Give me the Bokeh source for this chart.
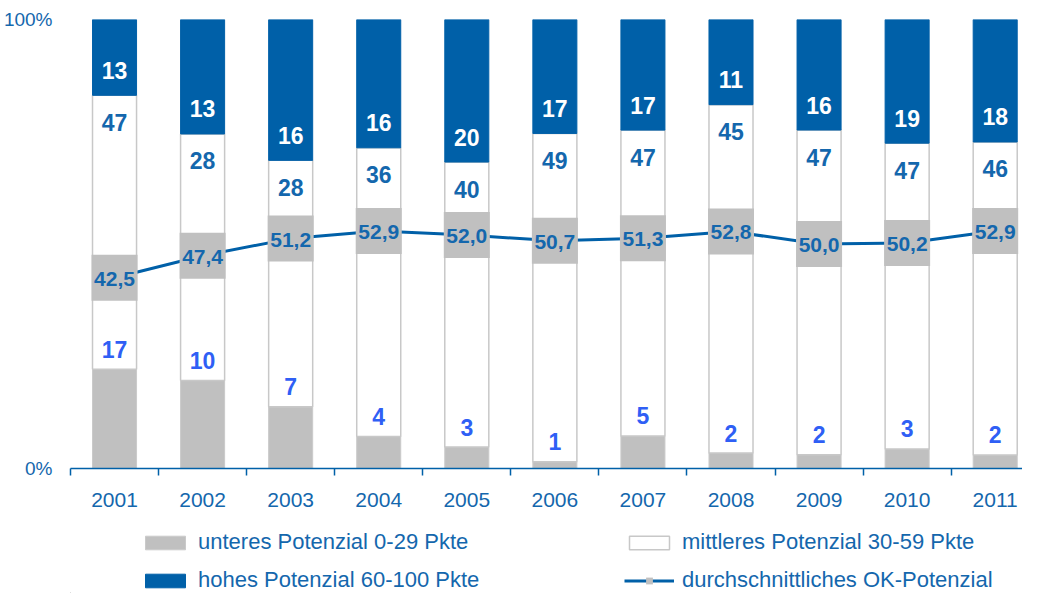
from bokeh.plotting import figure
from bokeh.layouts import column
from bokeh.models import Range1d, FixedTicker, Legend, LegendItem, ColumnDataSource
from bokeh.core.properties import value
from bokeh.embed import file_html
from bokeh.resources import INLINE

years = ["2001", "2002", "2003", "2004", "2005", "2006", "2007", "2008", "2009", "2010", "2011"]
high = [13, 13, 16, 16, 20, 17, 17, 11, 16, 19, 18]
mid = [47, 28, 28, 36, 40, 49, 47, 45, 47, 47, 46]
low = [17, 10, 7, 4, 3, 1, 5, 2, 2, 3, 2]
avg = [42.5, 47.4, 51.2, 52.9, 52.0, 50.7, 51.3, 52.8, 50.0, 50.2, 52.9]
legend_labels = ["unteres Potenzial 0-29 Pkte", "mittleres Potenzial 30-59 Pkte",
                 "hohes Potenzial 60-100 Pkte", "durchschnittliches OK-Potenzial"]

BLUE = "#0060a8"
TXT = "#1467ad"
GRAY = "#c0c0c0"
LOWTXT = "#2f5ff5"
FONT = "Liberation Sans"

n = len(years)
x = list(range(n))
tot = [h + m + l for h, m, l in zip(high, mid, low)]
low_top = [100.0 * l / t for l, t in zip(low, tot)]
mid_top = [100.0 * (l + m) / t for l, m, t in zip(low, mid, tot)]

src = ColumnDataSource(dict(
    x=x, zero=[0] * n, full=[100] * n, low_top=low_top, mid_top=mid_top, avg=avg,
    high_lbl=[str(v) for v in high], mid_lbl=[str(v) for v in mid], low_lbl=[str(v) for v in low],
    avg_lbl=[f"{v:.1f}".replace(".", ",") for v in avg],
))

p = figure(width=1022, height=513, x_range=Range1d(-0.5, 10.31), y_range=Range1d(0, 100),
           output_backend="svg", toolbar_location=None,
           min_border_left=62, min_border_right=0, min_border_top=19, min_border_bottom=45)
p.outline_line_color = None
p.xgrid.visible = False
p.ygrid.visible = False

low_style = dict(fill_color=GRAY, line_color="#cacaca", line_width=1)
mid_style = dict(fill_color="white", line_color="#c8c8c8", line_width=1.5)
high_style = dict(fill_color=BLUE, line_color=BLUE, line_width=1)

p.vbar(x="x", width=0.5, bottom="zero", top="low_top", source=src, **low_style)
p.vbar(x="x", width=0.5, bottom="low_top", top="mid_top", source=src, **mid_style)
p.vbar(x="x", width=0.5, bottom="mid_top", top="full", source=src, **high_style)

p.line(x="x", y="avg", source=src, line_color=BLUE, line_width=3)
p.scatter(x="x", y="avg", source=src, marker="square", size=46,
          fill_color=GRAY, line_color=None)

common = dict(text_align="center", text_baseline="middle", text_font=value(FONT),
              text_font_style="bold", source=src)
p.text(x="x", y="mid_top", text="high_lbl", y_offset=-25, text_color="white",
       text_font_size="23px", **common)
p.text(x="x", y="mid_top", text="mid_lbl", y_offset=27, text_color=TXT,
       text_font_size="23px", **common)
p.text(x="x", y="low_top", text="low_lbl", y_offset=-20, text_color=LOWTXT,
       text_font_size="23px", **common)
p.text(x="x", y="avg", text="avg_lbl", y_offset=1, text_color=TXT,
       text_font_size="21px", **common)

# x axis
p.xaxis.ticker = FixedTicker(ticks=x, minor_ticks=[i - 0.5 for i in range(n + 1)])
p.xaxis.major_label_overrides = {i: years[i] for i in x}
p.xaxis.major_tick_line_color = None
p.xaxis.major_tick_out = 0
p.xaxis.major_tick_in = 0
p.xaxis.minor_tick_out = 7
p.xaxis.minor_tick_in = 0
p.xaxis.minor_tick_line_color = BLUE
p.xaxis.minor_tick_line_width = 1.5
p.xaxis.axis_line_color = BLUE
p.xaxis.axis_line_width = 1.5
p.xaxis.major_label_text_color = TXT
p.xaxis.major_label_text_font = FONT
p.xaxis.major_label_text_font_size = "21px"
p.xaxis.major_label_standoff = 17

# y axis
p.yaxis.ticker = FixedTicker(ticks=[0, 100], minor_ticks=[])
p.yaxis.major_label_overrides = {0: "0%", 100: "100%"}
p.yaxis.axis_line_color = None
p.yaxis.major_tick_line_color = None
p.yaxis.minor_tick_line_color = None
p.yaxis.major_label_text_color = TXT
p.yaxis.major_label_text_font = FONT
p.yaxis.major_label_text_font_size = "19px"
p.yaxis.major_label_standoff = 12

# legend figure (its glyphs use the chart data but lie outside its visible ranges)
lf = figure(width=1022, height=80, x_range=Range1d(500, 501), y_range=Range1d(5000, 5001),
            output_backend="svg", toolbar_location=None,
            x_axis_location=None, y_axis_location=None,
            min_border_left=0, min_border_right=0, min_border_top=0, min_border_bottom=0)
lf.xgrid.visible = False
lf.ygrid.visible = False
lf.outline_line_color = None
g_low = lf.vbar(x="x", bottom="zero", top="low_top", width=0.5, source=src, **low_style)
g_mid = lf.vbar(x="x", bottom="low_top", top="mid_top", width=0.5, source=src, **mid_style)
g_high = lf.vbar(x="x", bottom="mid_top", top="full", width=0.5, source=src, **high_style)
g_line = lf.line(x="x", y="avg", source=src, line_color=BLUE, line_width=3)
g_sq = lf.scatter(x="x", y="avg", source=src, marker="square", size=46,
                  fill_color=GRAY, line_color=None)

legend = Legend(items=[
    LegendItem(label=legend_labels[0], renderers=[g_low]),
    LegendItem(label=legend_labels[1], renderers=[g_mid]),
    LegendItem(label=legend_labels[2], renderers=[g_high]),
    LegendItem(label=legend_labels[3], renderers=[g_line, g_sq]),
], location=(70, 0), orientation="horizontal", ncols=2,
    margin=0, padding=0, spacing=12, glyph_width=50, glyph_height=17,
    label_standoff=8, label_width=414, label_height=22,
    label_text_font=FONT, label_text_font_size="22px", label_text_color=TXT,
    border_line_alpha=0, background_fill_alpha=0)
lf.add_layout(legend)

open("out.html", "w").write(file_html(column(p, lf), INLINE))
